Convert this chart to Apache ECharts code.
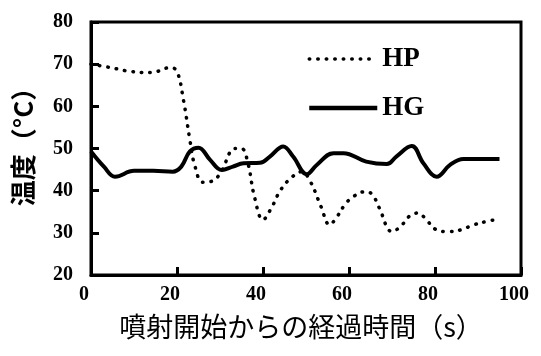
<!DOCTYPE html>
<html>
<head>
<meta charset="utf-8">
<script src="https://cdn.jsdelivr.net/npm/echarts@6/dist/echarts.min.js"></script>
<style>html,body{margin:0;padding:0;background:#fff}#c{width:541px;height:356px}</style>
</head>
<body>
<div id="c"></div>
<script>
var xTicks = [0, 20, 40, 60, 80, 100];
var yTicks = [20, 30, 40, 50, 60, 70, 80];
var seriesNames = ['HP', 'HG'];

var hpTime = [0, 5, 9, 14, 18.5, 20, 21.5, 23, 24, 26, 28, 30, 33.5, 35, 36.5, 38, 40, 42, 44, 46.5, 49, 51, 53.5, 55.5, 57, 59, 61, 64, 65.5, 67, 70, 72, 74, 76, 78, 80, 83, 86, 89, 92, 95];
var hpTemp = [70, 69.1, 68.3, 68, 69.2, 68.3, 61.5, 52, 46.5, 42, 42.2, 44, 50, 50, 46.5, 38.6, 33.1, 36, 40, 43, 44.5, 42.2, 36.2, 31.9, 33.5, 36.6, 38.6, 39.8, 39, 36, 30.3, 31.5, 33.9, 34.7, 33.1, 30.9, 30.3, 30.7, 31.9, 32.7, 33.3];

var hgTime = [0, 3, 5.6, 10, 14.5, 19, 21, 23, 25, 27.7, 30.4, 33, 35.5, 39.3, 41.6, 44.7, 47, 50.2, 52.5, 56.4, 58.7, 64, 68.8, 71, 74.6, 77.3, 80.4, 83.5, 86.6, 95];
var hgTemp = [49.3, 45.7, 43.3, 44.7, 44.7, 44.5, 45.7, 49.3, 50.2, 47.3, 44.9, 45.7, 46.5, 46.6, 48.1, 50.5, 48.1, 43.9, 46.1, 48.9, 48.9, 46.9, 46.3, 48.1, 50.6, 46.5, 43.3, 46.1, 47.5, 47.5];

function zip(a, b) { return a.map(function (v, i) { return [v, b[i]]; }); }

var chart = echarts.init(document.getElementById('c'));
var serif = '"Liberation Serif", "Times New Roman", serif';
chart.setOption({
  animation: false,
  backgroundColor: '#fff',
  grid: {
    left: 91, right: 20, top: 22, bottom: 81,
    containLabel: false,
    outerBoundsMode: 'none',
    show: true, borderColor: '#000', borderWidth: 3, backgroundColor: 'transparent'
  },
  legend: {
    orient: 'vertical',
    left: 302, top: 39,
    itemWidth: 68, itemHeight: 20, itemGap: 19,
    data: [
      { name: seriesNames[0], lineStyle: { width: 3.5, type: [0.5, 8], cap: 'round', color: '#000' } },
      { name: seriesNames[1], lineStyle: { width: 4.5, type: 'solid', color: '#000' } }
    ],
    itemStyle: { opacity: 0, color: 'transparent', borderWidth: 0 },
    textStyle: { fontFamily: serif, fontWeight: 'bold', fontSize: 27, color: '#000', lineHeight: 30 }
  },
  xAxis: {
    type: 'value',
    min: xTicks[0], max: xTicks[xTicks.length - 1], interval: 20,
    axisLine: { show: true, onZero: false, lineStyle: { color: '#000', width: 3 } },
    axisTick: { show: true, inside: true, length: 8, lineStyle: { color: '#000', width: 3 } },
    splitLine: { show: false },
    axisLabel: { color: '#000', fontFamily: serif, fontWeight: 'bold', fontSize: 20, margin: 10, padding: [0, 14, 0, 0] },
    name: '噴射開始からの経過時間（s）',
    nameLocation: 'middle', nameGap: 38,
    nameTextStyle: { color: '#000', fontFamily: '"Noto Sans CJK JP", sans-serif', fontSize: 27, padding: [0, 10, 0, 0] }
  },
  yAxis: {
    type: 'value',
    min: yTicks[0], max: yTicks[yTicks.length - 1], interval: 10,
    axisLine: { show: true, lineStyle: { color: '#000', width: 3 } },
    axisTick: { show: true, inside: true, length: 8, lineStyle: { color: '#000', width: 3 } },
    splitLine: { show: false },
    axisLabel: { color: '#000', fontFamily: serif, fontWeight: 'bold', fontSize: 20, margin: 18 },
    name: '温度（°C）',
    nameLocation: 'middle', nameGap: 55, nameRotate: 90,
    nameTextStyle: { color: '#000', fontFamily: '"Noto Sans CJK JP", sans-serif', fontWeight: 'bold', fontSize: 26, padding: [0, 0, 0, 16] }
  },
  series: [
    {
      name: seriesNames[0], type: 'line', smooth: 0.4, symbol: 'none',
      data: zip(hpTime, hpTemp),
      lineStyle: { color: '#000', width: 3.5, type: [0.5, 8], cap: 'round' },
      itemStyle: { color: '#000' }
    },
    {
      name: seriesNames[1], type: 'line', smooth: 0.4, symbol: 'none',
      data: zip(hgTime, hgTemp),
      lineStyle: { color: '#000', width: 4, type: 'solid' },
      itemStyle: { color: '#000' }
    }
  ]
});
</script>
</body>
</html>
